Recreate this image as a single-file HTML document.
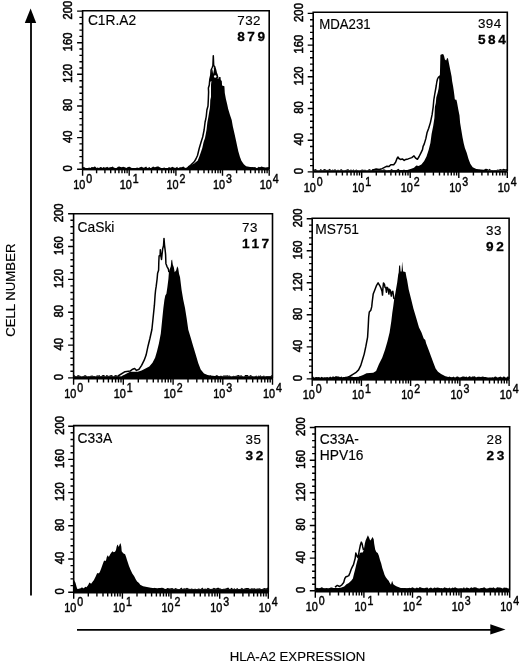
<!DOCTYPE html>
<html><head><meta charset="utf-8"><style>
html,body{margin:0;padding:0;background:#fff;}
svg{display:block;filter:grayscale(1);}
text{font-family:"Liberation Sans",sans-serif;fill:#000;stroke:#000;stroke-width:0.15px;}
.yl{font-size:12px;stroke-width:0.55px;}
.xl{font-size:12.5px;stroke-width:0.45px;}
.sup{font-size:12.2px;}
.nm{font-size:13.8px;}
.n1{font-size:13.4px;letter-spacing:0.5px;}
.n2{font-size:13.6px;stroke-width:0.3px;font-weight:bold;letter-spacing:2.6px;}
.ax{font-size:13.2px;}
</style></head><body>
<svg width="520" height="664" viewBox="0 0 520 664">
<polyline points="188.0,167.0 189.5,166.1 191.3,164.6 194.2,161.8 195.9,159.0 197.5,155.5 199.2,148.5 201.1,142.0 202.7,137.0 204.1,130.0 205.1,122.0 205.8,119.0 206.3,116.0 206.9,110.0 208.0,106.0 208.3,100.0 208.6,92.0 208.4,88.0 209.3,85.0 209.6,81.3 209.9,78.9 210.8,75.3 211.1,70.0 212.0,68.0 212.9,65.7 213.3,55.7 213.7,65.7 214.5,66.3 215.4,69.3 216.3,72.9 217.2,75.3 217.8,78.0" fill="none" stroke="#000" stroke-width="1.5" stroke-linejoin="round"/>
<polygon points="186.0,168.0 191.0,165.3 194.5,163.3 197.8,160.6 199.9,155.0 202.3,148.0 203.6,142.0 205.0,138.0 206.5,130.0 207.4,122.0 208.2,118.0 209.0,113.0 210.0,107.0 210.3,100.0 211.0,97.0 211.0,85.0 211.4,81.3 212.3,79.0 215.0,78.5 218.0,78.9 219.3,77.1 220.5,77.1 220.8,80.1 221.8,81.0 222.1,85.5 224.4,86.3 224.8,93.0 225.9,99.1 227.0,103.6 228.2,108.9 230.0,114.9 231.7,120.0 232.8,126.3 234.4,133.3 236.0,140.4 237.1,145.8 238.3,151.3 239.9,156.8 241.4,160.7 243.8,164.2 246.1,166.2 250.1,167.0 256.0,167.6 256.0,169.2 186.0,169.2" fill="#000"/>
<path d="M209.4,82L210.6,75.5L211.6,70.5L213.3,67.5L214.6,67.5L216.4,73L217.9,78.8L213,80.5Z" fill="#000"/><circle cx="215.2" cy="76.6" r="1.25" fill="#fff"/><path d="M212.4,69.5L213.4,66.5L214,69.5L213.2,74Z" fill="#fff"/>
<rect x="82.6" y="168.0" width="186.6" height="2.4" fill="#000"/>
<polygon points="82.6,168.2 82.6,167.6 83.5,167.0 84.4,167.2 85.6,168.1 86.9,168.1 88.1,168.1 89.0,167.4 90.6,168.0 91.6,167.1 93.4,167.2 94.6,166.4 95.4,166.7 96.5,167.9 97.4,167.6 99.0,167.9 100.4,167.0 101.6,167.2 102.4,168.1 103.4,167.0 104.6,167.6 106.0,167.4 107.1,166.8 108.6,167.8 110.0,167.3 111.7,166.9 112.8,166.4 113.7,167.4 115.2,167.9 116.5,168.1 118.0,166.8 119.4,166.6 120.5,166.9 121.9,167.2 123.1,166.7 124.9,167.3 126.4,168.1 127.9,167.0 129.7,166.7 130.8,167.5 132.2,168.2 133.5,167.9 134.4,168.1 136.0,168.0 137.0,167.5 138.7,168.1 140.0,167.2 141.7,166.7 143.3,167.7 144.5,167.6 146.2,166.5 147.2,167.9 148.2,167.8 149.5,167.1 150.5,168.2 151.8,167.5 153.1,166.5 154.6,167.3 156.0,167.0 156.9,166.6 158.5,166.6 160.1,167.5 161.3,168.0 162.7,168.1 163.6,167.8 164.5,167.6 165.4,168.2 166.3,168.0 167.4,168.2 169.1,167.1 170.1,167.7 171.2,167.5 172.1,166.7 173.9,167.4 175.2,168.0 176.1,167.6 177.2,166.7 178.1,168.2 179.9,167.2 180.8,167.2 181.6,167.2 183.4,166.6 184.9,167.7 186.1,167.9 187.7,167.2 189.2,167.6 190.3,166.7 192.1,166.7 193.7,166.7 195.2,167.8 196.6,167.6 197.4,168.1 198.4,167.7 199.9,166.5 201.2,166.5 203.0,166.5 204.1,167.8 205.2,167.8 206.2,167.1 207.9,166.7 209.1,167.0 210.8,168.0 212.2,166.6 213.8,166.8 215.1,167.9 216.7,167.6 218.3,166.5 219.5,167.5 221.3,166.9 222.2,168.0 223.2,166.6 224.8,167.9 226.4,166.4 227.9,167.6 229.2,168.0 230.0,166.5 231.5,167.3 233.2,167.4 234.9,166.7 235.9,167.7 237.0,167.8 238.4,167.7 239.6,168.0 241.3,167.6 242.6,167.1 244.3,167.4 246.0,167.3 247.4,167.3 248.2,167.4 249.2,168.2 250.8,167.9 252.0,166.9 253.4,167.6 254.7,167.2 256.3,168.0 257.7,167.8 258.7,166.8 260.0,167.2 261.6,166.6 262.9,167.1 264.2,167.3 265.7,167.4 267.0,167.3 268.8,166.9 269.2,168.2" fill="#000"/>
<path d="M82.6,169.2V10.8H269.2V169.2" fill="none" stroke="#000" stroke-width="1.6"/>
<path d="M77.1,169.2H82.6 M79.4,162.9H82.6 M79.4,156.6H82.6 M79.4,150.2H82.6 M79.4,143.9H82.6 M77.1,137.6H82.6 M79.4,131.3H82.6 M79.4,124.9H82.6 M79.4,118.6H82.6 M79.4,112.3H82.6 M77.1,106.0H82.6 M79.4,99.6H82.6 M79.4,93.3H82.6 M79.4,87.0H82.6 M79.4,80.7H82.6 M77.1,74.3H82.6 M79.4,68.0H82.6 M79.4,61.7H82.6 M79.4,55.4H82.6 M79.4,49.0H82.6 M77.1,42.7H82.6 M79.4,36.4H82.6 M79.4,30.1H82.6 M79.4,23.7H82.6 M79.4,17.4H82.6 M77.1,11.1H82.6 M82.6,169.2V175.7 M96.6,169.2V173.3 M104.9,169.2V173.3 M110.7,169.2V173.3 M115.2,169.2V173.3 M118.9,169.2V173.3 M122.0,169.2V173.3 M124.7,169.2V173.3 M127.1,169.2V173.3 M129.2,169.2V175.7 M143.3,169.2V173.3 M151.5,169.2V173.3 M157.3,169.2V173.3 M161.9,169.2V173.3 M165.6,169.2V173.3 M168.7,169.2V173.3 M171.4,169.2V173.3 M173.8,169.2V173.3 M175.9,169.2V175.7 M189.9,169.2V173.3 M198.2,169.2V173.3 M204.0,169.2V173.3 M208.5,169.2V173.3 M212.2,169.2V173.3 M215.3,169.2V173.3 M218.0,169.2V173.3 M220.4,169.2V173.3 M222.5,169.2V175.7 M236.6,169.2V173.3 M244.8,169.2V173.3 M250.6,169.2V173.3 M255.2,169.2V173.3 M258.9,169.2V173.3 M262.0,169.2V173.3 M264.7,169.2V173.3 M267.1,169.2V173.3 M269.2,169.2V175.7" stroke="#000" stroke-width="1.4" fill="none"/>
<text class="yl" transform="translate(72.4,168.3) rotate(-90) scale(0.94,1)" text-anchor="middle">0</text>
<text class="yl" transform="translate(72.4,136.7) rotate(-90) scale(0.94,1)" text-anchor="middle">40</text>
<text class="yl" transform="translate(72.4,105.1) rotate(-90) scale(0.94,1)" text-anchor="middle">80</text>
<text class="yl" transform="translate(72.4,73.4) rotate(-90) scale(0.94,1)" text-anchor="middle">120</text>
<text class="yl" transform="translate(72.4,41.8) rotate(-90) scale(0.94,1)" text-anchor="middle">160</text>
<text class="yl" transform="translate(72.4,10.2) rotate(-90) scale(0.94,1)" text-anchor="middle">200</text>
<g transform="translate(82.6,189.4) scale(0.87,1)"><text class="xl" text-anchor="middle">10<tspan class="sup" dx="1.1" dy="-6.4">0</tspan></text></g>
<g transform="translate(129.2,189.4) scale(0.87,1)"><text class="xl" text-anchor="middle">10<tspan class="sup" dx="1.1" dy="-6.4">1</tspan></text></g>
<g transform="translate(175.9,189.4) scale(0.87,1)"><text class="xl" text-anchor="middle">10<tspan class="sup" dx="1.1" dy="-6.4">2</tspan></text></g>
<g transform="translate(222.5,189.4) scale(0.87,1)"><text class="xl" text-anchor="middle">10<tspan class="sup" dx="1.1" dy="-6.4">3</tspan></text></g>
<g transform="translate(269.2,189.4) scale(0.87,1)"><text class="xl" text-anchor="middle">10<tspan class="sup" dx="1.1" dy="-6.4">4</tspan></text></g>
<text class="nm" x="87.9" y="24.5">C1R.A2</text>
<text class="n1" x="237.2" y="24.9">732</text>
<text class="n2" x="237.2" y="40.8">879</text>
<polyline points="372.0,170.3 376.3,169.0 379.2,169.5 382.1,168.6 385.0,167.1 386.9,166.2 388.8,166.6 390.8,164.7 393.7,164.7 395.6,162.3 397.0,158.5 398.0,157.0 398.9,158.5 400.4,159.4 402.3,158.9 404.2,160.4 405.7,159.4 408.1,158.9 411.8,157.6 414.0,155.9 415.7,158.2 417.4,159.3 419.1,156.5 420.8,153.1 422.5,149.7 423.1,146.3 424.2,144.1 425.9,138.4 427.0,132.8 428.7,128.2 430.4,122.6 432.1,114.7 433.2,106.8 433.8,100.0 434.6,95.0 435.5,90.0 436.2,86.0 436.8,82.0 437.5,79.0 438.4,77.4 439.6,76.4" fill="none" stroke="#000" stroke-width="1.5" stroke-linejoin="round"/>
<polygon points="372.0,171.0 400.3,170.3 407.3,170.1 410.6,168.9 414.0,167.8 416.3,165.5 418.6,166.1 421.4,164.4 424.2,161.0 426.5,156.5 428.7,149.7 430.4,142.9 431.6,133.9 433.2,126.0 434.4,118.1 434.9,106.8 435.8,103.0 436.3,97.4 437.6,92.9 438.6,88.4 439.3,81.1 439.0,76.2 439.9,74.8 440.2,63.1 440.4,54.9 441.1,54.5 443.1,54.0 444.0,55.8 444.9,59.5 446.2,60.4 447.1,58.1 448.0,58.5 448.9,63.1 449.8,67.6 450.7,72.1 451.6,76.6 452.1,81.1 453.0,85.7 453.7,90.2 454.4,95.6 454.8,99.2 455.6,99.8 456.4,99.8 457.0,102.2 458.3,109.5 459.5,115.5 460.1,122.7 461.3,129.9 462.5,137.2 463.7,143.2 464.9,148.0 466.7,152.8 468.5,158.9 470.3,163.7 472.7,167.3 476.3,169.1 481.1,169.4 487.0,170.0 487.0,171.6 372.0,171.6" fill="#000"/>
<rect x="313.2" y="170.3" width="194.1" height="2.4" fill="#000"/>
<polygon points="313.2,170.5 313.2,168.8 314.2,169.5 316.0,169.0 316.9,170.3 318.2,170.4 319.2,170.4 320.7,169.1 322.4,170.2 323.9,169.3 324.8,168.9 326.6,170.1 328.4,169.8 329.7,168.7 331.3,170.2 332.6,169.6 333.7,170.1 334.8,169.2 335.6,169.5 336.8,170.5 338.0,169.4 339.3,170.4 341.1,169.1 342.9,170.3 343.9,170.4 345.5,170.0 346.4,169.7 348.2,169.0 349.2,170.2 351.0,169.5 352.5,170.3 353.3,169.3 354.5,170.4 356.3,169.4 357.9,170.3 359.6,170.4 361.2,169.7 362.4,169.5 364.1,170.0 365.0,169.6 366.1,170.3 367.0,170.4 368.0,169.9 369.1,169.1 370.2,169.6 371.1,169.9 371.9,170.0 372.7,169.2 374.1,170.2 375.4,168.8 376.3,169.0 377.5,169.6 379.1,169.8 380.4,169.3 382.2,169.9 383.9,169.2 385.3,169.8 386.5,170.4 387.4,170.4 388.9,170.0 389.9,170.3 391.5,168.9 393.0,170.0 394.0,170.0 395.3,170.2 396.5,170.0 398.3,168.7 399.7,170.1 401.5,169.9 402.6,170.5 403.8,169.6 405.1,170.1 406.4,170.5 407.5,170.3 408.6,170.4 409.5,170.0 410.5,169.4 411.8,169.1 413.3,169.2 415.0,169.8 416.1,168.7 417.0,169.2 418.5,170.4 420.1,168.9 421.5,169.2 423.2,170.2 424.5,169.6 426.1,169.1 427.8,169.4 429.5,169.3 431.0,170.1 431.8,170.3 433.0,170.3 434.6,169.5 436.0,169.4 437.5,169.6 438.3,169.1 439.9,169.6 441.2,169.3 442.1,169.2 443.1,170.4 444.2,169.2 445.2,169.2 446.9,169.6 448.1,169.6 449.6,169.1 451.0,169.3 451.9,170.2 452.9,169.2 454.0,169.5 454.8,170.4 455.9,169.3 457.4,169.3 458.5,169.6 459.7,169.7 460.6,168.9 461.6,168.7 463.4,170.5 464.6,169.0 466.4,169.7 467.5,170.1 469.2,170.1 470.6,170.2 472.0,168.8 472.9,169.0 474.2,168.9 475.7,170.1 477.4,169.6 478.2,170.5 479.5,169.7 480.6,170.2 481.7,169.9 483.4,170.5 485.0,169.0 485.9,168.8 487.4,168.9 488.5,169.8 489.6,168.7 491.0,169.9 492.3,170.0 493.1,170.3 494.7,170.0 496.5,170.1 497.6,169.6 498.5,169.8 500.3,168.9 501.9,169.4 503.7,168.8 505.0,169.2 505.8,169.2 507.1,169.1 507.3,170.5" fill="#000"/>
<path d="M313.2,171.6V12.3H507.3V171.6" fill="none" stroke="#000" stroke-width="1.6"/>
<path d="M307.7,171.9H313.2 M310.0,165.6H313.2 M310.0,159.2H313.2 M310.0,152.9H313.2 M310.0,146.5H313.2 M307.7,140.2H313.2 M310.0,133.9H313.2 M310.0,127.5H313.2 M310.0,121.2H313.2 M310.0,114.8H313.2 M307.7,108.5H313.2 M310.0,102.2H313.2 M310.0,95.8H313.2 M310.0,89.5H313.2 M310.0,83.1H313.2 M307.7,76.8H313.2 M310.0,70.5H313.2 M310.0,64.1H313.2 M310.0,57.8H313.2 M310.0,51.4H313.2 M307.7,45.1H313.2 M310.0,38.8H313.2 M310.0,32.4H313.2 M310.0,26.1H313.2 M310.0,19.7H313.2 M307.7,13.4H313.2 M313.2,171.6V178.0 M327.8,171.6V175.6 M336.4,171.6V175.6 M342.4,171.6V175.6 M347.1,171.6V175.6 M351.0,171.6V175.6 M354.2,171.6V175.6 M357.0,171.6V175.6 M359.5,171.6V175.6 M361.7,171.6V178.0 M376.3,171.6V175.6 M384.9,171.6V175.6 M390.9,171.6V175.6 M395.6,171.6V175.6 M399.5,171.6V175.6 M402.7,171.6V175.6 M405.5,171.6V175.6 M408.0,171.6V175.6 M410.2,171.6V178.0 M424.9,171.6V175.6 M433.4,171.6V175.6 M439.5,171.6V175.6 M444.2,171.6V175.6 M448.0,171.6V175.6 M451.3,171.6V175.6 M454.1,171.6V175.6 M456.6,171.6V175.6 M458.8,171.6V178.0 M473.4,171.6V175.6 M481.9,171.6V175.6 M488.0,171.6V175.6 M492.7,171.6V175.6 M496.5,171.6V175.6 M499.8,171.6V175.6 M502.6,171.6V175.6 M505.1,171.6V175.6 M507.3,171.6V178.0" stroke="#000" stroke-width="1.4" fill="none"/>
<text class="yl" transform="translate(303.0,171.0) rotate(-90) scale(0.94,1)" text-anchor="middle">0</text>
<text class="yl" transform="translate(303.0,139.3) rotate(-90) scale(0.94,1)" text-anchor="middle">40</text>
<text class="yl" transform="translate(303.0,107.6) rotate(-90) scale(0.94,1)" text-anchor="middle">80</text>
<text class="yl" transform="translate(303.0,75.9) rotate(-90) scale(0.94,1)" text-anchor="middle">120</text>
<text class="yl" transform="translate(303.0,44.2) rotate(-90) scale(0.94,1)" text-anchor="middle">160</text>
<text class="yl" transform="translate(303.0,12.5) rotate(-90) scale(0.94,1)" text-anchor="middle">200</text>
<g transform="translate(313.2,192.1) scale(0.87,1)"><text class="xl" text-anchor="middle">10<tspan class="sup" dx="1.1" dy="-6.4">0</tspan></text></g>
<g transform="translate(361.7,192.1) scale(0.87,1)"><text class="xl" text-anchor="middle">10<tspan class="sup" dx="1.1" dy="-6.4">1</tspan></text></g>
<g transform="translate(410.2,192.1) scale(0.87,1)"><text class="xl" text-anchor="middle">10<tspan class="sup" dx="1.1" dy="-6.4">2</tspan></text></g>
<g transform="translate(458.8,192.1) scale(0.87,1)"><text class="xl" text-anchor="middle">10<tspan class="sup" dx="1.1" dy="-6.4">3</tspan></text></g>
<g transform="translate(507.3,192.1) scale(0.87,1)"><text class="xl" text-anchor="middle">10<tspan class="sup" dx="1.1" dy="-6.4">4</tspan></text></g>
<text class="nm" x="319.2" y="28.8" textLength="51.5" lengthAdjust="spacingAndGlyphs">MDA231</text>
<text class="n1" x="477.9" y="27.7">394</text>
<text class="n2" x="477.9" y="43.6">584</text>
<polyline points="118.0,376.0 125.0,371.7 130.1,371.1 132.7,369.2 134.6,368.5 136.5,370.4 139.1,369.2 141.6,365.3 144.2,360.2 146.1,355.1 148.0,346.2 149.9,338.5 151.9,329.5 153.1,318.0 154.4,305.2 155.1,295.0 155.6,290.0 156.1,286.9 157.1,279.0 157.6,273.2 158.6,270.2 158.8,262.4 159.1,256.0 160.1,255.5 160.3,249.7 160.7,254.6 161.5,259.5 162.0,254.6 162.7,248.7 163.5,245.8 164.0,238.4 164.5,244.8 165.2,250.7 165.6,254.6 165.9,263.4 166.9,266.3 168.4,269.2 168.9,272.2" fill="none" stroke="#000" stroke-width="1.5" stroke-linejoin="round"/>
<polygon points="122.0,376.0 130.1,371.7 137.8,371.7 141.6,370.4 145.5,368.5 149.3,366.6 152.5,362.8 155.1,357.7 157.0,351.3 158.9,343.6 160.8,333.4 162.1,320.6 163.4,307.8 164.4,300.0 165.3,295.5 166.4,293.7 167.4,286.9 168.4,279.0 168.9,272.2 169.4,270.2 170.8,266.3 171.3,260.4 172.1,259.5 172.8,264.4 173.8,267.3 174.7,272.2 176.2,270.2 177.2,266.3 178.2,268.3 179.1,274.1 180.0,277.0 181.6,289.9 183.3,299.9 185.0,308.1 186.6,318.1 188.3,329.7 190.8,338.0 193.2,346.3 195.7,354.6 198.2,362.9 200.7,369.5 204.0,373.6 208.2,375.3 215.0,376.1 222.0,376.5 222.0,378.0 122.0,378.0" fill="#000"/>
<rect x="73.6" y="376.5" width="198.9" height="3.0" fill="#000"/>
<polygon points="73.6,376.7 73.6,376.2 74.4,375.0 75.3,375.9 76.5,376.2 78.0,374.9 79.1,375.5 80.2,375.7 81.4,376.4 82.3,376.3 84.0,375.8 85.0,375.1 86.9,375.9 87.8,376.4 88.7,376.1 89.5,376.3 90.6,375.7 92.3,375.4 93.5,376.0 94.8,376.0 96.0,376.6 97.0,375.0 97.9,375.8 99.4,375.1 100.4,376.2 101.4,376.0 102.7,375.0 104.3,375.1 105.1,376.6 106.6,375.1 107.9,375.6 108.7,376.0 110.4,375.2 112.1,374.9 113.1,376.5 114.1,375.8 115.6,375.0 117.1,375.5 118.7,375.9 120.0,376.6 121.6,376.3 123.4,375.5 124.5,376.5 125.5,375.6 127.0,376.5 127.9,375.8 129.2,376.0 130.3,375.6 131.0,376.2 132.3,375.0 133.8,375.1 135.0,376.3 136.1,375.0 137.6,376.1 138.4,375.8 139.9,375.9 140.9,375.5 142.7,376.3 143.5,376.1 144.7,375.5 145.7,375.3 147.2,375.8 148.2,375.0 149.3,375.2 150.3,376.3 151.9,376.2 153.7,375.8 154.7,376.3 155.9,375.5 157.6,376.4 158.8,376.3 160.6,376.4 161.5,376.6 162.6,375.1 164.3,375.4 166.2,375.0 167.3,376.4 169.0,375.4 169.8,375.5 171.0,376.0 172.1,376.4 172.9,376.2 174.1,375.0 175.0,375.0 176.0,376.1 177.6,375.2 178.8,376.6 180.1,376.0 181.8,376.4 183.0,375.1 183.8,376.0 185.4,375.3 186.3,376.6 187.1,375.0 188.2,375.4 189.9,376.1 190.9,375.0 192.4,376.2 193.9,376.1 195.0,376.7 196.5,375.1 198.0,375.0 198.8,376.3 200.0,375.0 201.8,376.0 202.8,375.9 204.1,375.0 205.1,375.3 206.7,375.2 208.2,375.6 209.4,376.1 210.5,375.3 211.4,376.3 212.9,376.3 213.8,376.6 215.1,376.1 216.9,375.1 218.8,376.2 219.6,376.5 220.9,375.4 222.2,376.3 223.4,375.6 224.9,375.4 226.5,375.5 227.4,375.2 228.5,375.7 229.7,375.4 230.7,376.3 231.7,376.4 233.4,375.7 234.5,376.0 236.3,375.8 237.4,375.2 238.8,374.9 239.7,375.8 241.3,375.2 243.1,376.6 244.1,376.5 245.1,374.9 246.5,375.0 247.7,375.1 248.9,376.2 250.5,375.0 251.4,375.6 252.8,376.3 254.0,376.4 255.0,376.2 256.4,375.5 257.4,376.7 258.5,375.5 259.5,376.1 260.5,375.3 261.8,376.6 262.7,376.0 264.1,375.5 264.9,376.4 266.4,376.0 267.5,376.1 269.3,376.1 270.6,376.1 271.9,375.1 272.5,376.7" fill="#000"/>
<path d="M73.6,378.0V213.7H272.5V378.0" fill="none" stroke="#000" stroke-width="1.6"/>
<path d="M68.1,377.9H73.6 M70.4,371.3H73.6 M70.4,364.8H73.6 M70.4,358.2H73.6 M70.4,351.6H73.6 M68.1,345.1H73.6 M70.4,338.5H73.6 M70.4,331.9H73.6 M70.4,325.4H73.6 M70.4,318.8H73.6 M68.1,312.2H73.6 M70.4,305.7H73.6 M70.4,299.1H73.6 M70.4,292.5H73.6 M70.4,285.9H73.6 M68.1,279.4H73.6 M70.4,272.8H73.6 M70.4,266.2H73.6 M70.4,259.7H73.6 M70.4,253.1H73.6 M68.1,246.5H73.6 M70.4,240.0H73.6 M70.4,233.4H73.6 M70.4,226.8H73.6 M70.4,220.3H73.6 M68.1,213.7H73.6 M73.6,378.0V384.8 M88.6,378.0V382.4 M97.3,378.0V382.4 M103.5,378.0V382.4 M108.4,378.0V382.4 M112.3,378.0V382.4 M115.6,378.0V382.4 M118.5,378.0V382.4 M121.0,378.0V382.4 M123.3,378.0V384.8 M138.3,378.0V382.4 M147.0,378.0V382.4 M153.3,378.0V382.4 M158.1,378.0V382.4 M162.0,378.0V382.4 M165.3,378.0V382.4 M168.2,378.0V382.4 M170.8,378.0V382.4 M173.1,378.0V384.8 M188.0,378.0V382.4 M196.8,378.0V382.4 M203.0,378.0V382.4 M207.8,378.0V382.4 M211.7,378.0V382.4 M215.1,378.0V382.4 M218.0,378.0V382.4 M220.5,378.0V382.4 M222.8,378.0V384.8 M237.7,378.0V382.4 M246.5,378.0V382.4 M252.7,378.0V382.4 M257.5,378.0V382.4 M261.5,378.0V382.4 M264.8,378.0V382.4 M267.7,378.0V382.4 M270.2,378.0V382.4 M272.5,378.0V384.8" stroke="#000" stroke-width="1.4" fill="none"/>
<text class="yl" transform="translate(63.4,377.0) rotate(-90) scale(0.94,1)" text-anchor="middle">0</text>
<text class="yl" transform="translate(63.4,344.2) rotate(-90) scale(0.94,1)" text-anchor="middle">40</text>
<text class="yl" transform="translate(63.4,311.3) rotate(-90) scale(0.94,1)" text-anchor="middle">80</text>
<text class="yl" transform="translate(63.4,278.5) rotate(-90) scale(0.94,1)" text-anchor="middle">120</text>
<text class="yl" transform="translate(63.4,245.6) rotate(-90) scale(0.94,1)" text-anchor="middle">160</text>
<text class="yl" transform="translate(63.4,212.8) rotate(-90) scale(0.94,1)" text-anchor="middle">200</text>
<g transform="translate(73.6,398.1) scale(0.87,1)"><text class="xl" text-anchor="middle">10<tspan class="sup" dx="1.1" dy="-6.4">0</tspan></text></g>
<g transform="translate(123.3,398.1) scale(0.87,1)"><text class="xl" text-anchor="middle">10<tspan class="sup" dx="1.1" dy="-6.4">1</tspan></text></g>
<g transform="translate(173.1,398.1) scale(0.87,1)"><text class="xl" text-anchor="middle">10<tspan class="sup" dx="1.1" dy="-6.4">2</tspan></text></g>
<g transform="translate(222.8,398.1) scale(0.87,1)"><text class="xl" text-anchor="middle">10<tspan class="sup" dx="1.1" dy="-6.4">3</tspan></text></g>
<g transform="translate(272.5,398.1) scale(0.87,1)"><text class="xl" text-anchor="middle">10<tspan class="sup" dx="1.1" dy="-6.4">4</tspan></text></g>
<text class="nm" x="77.6" y="231.5">CaSki</text>
<text class="n1" x="242.0" y="231.5">73</text>
<text class="n2" x="242.0" y="247.7">117</text>
<polyline points="343.0,378.0 346.1,377.6 349.5,376.5 352.9,374.4 355.7,372.7 358.6,369.9 360.8,365.4 362.5,359.7 364.2,354.1 365.9,346.2 367.6,337.1 368.2,327.0 368.7,316.8 369.3,312.0 370.8,310.3 371.7,306.9 372.2,302.0 373.2,294.1 374.7,290.2 376.6,285.3 378.1,282.9 379.6,285.3 381.0,288.3 382.0,291.2 382.5,295.1 383.0,287.3 383.5,282.9 384.5,284.4 385.0,287.3 385.9,288.3 386.4,292.2 386.9,287.3 387.9,288.3 388.9,294.1 389.4,289.2 390.3,290.2 391.3,296.1 391.8,292.2 392.8,291.2 393.8,298.1 394.7,299.0" fill="none" stroke="#000" stroke-width="1.5" stroke-linejoin="round"/>
<polygon points="345.0,378.0 351.8,377.2 358.6,376.7 363.1,375.0 366.5,373.3 373.2,372.7 376.1,371.0 378.9,364.2 382.3,357.5 385.1,349.5 387.4,341.6 389.6,332.6 391.3,321.3 392.3,312.7 393.3,305.9 394.2,299.0 395.2,294.1 396.2,288.3 397.2,282.4 398.2,274.6 398.7,272.6 399.1,265.8 400.1,265.3 400.6,271.6 401.6,271.6 402.1,261.4 403.1,271.6 405.5,272.1 406.5,277.5 407.1,280.0 408.7,289.5 411.1,299.0 413.4,308.5 415.8,316.4 419.0,327.5 421.4,332.2 423.7,338.5 425.3,340.1 426.1,343.3 428.5,349.6 430.9,355.9 433.2,362.3 435.6,368.6 438.0,371.8 441.1,374.1 445.9,376.5 450.0,377.3 456.0,377.8 456.0,379.2 345.0,379.2" fill="#000"/>
<rect x="312.2" y="377.7" width="196.9" height="2.9" fill="#000"/>
<polygon points="312.2,377.9 312.2,377.2 313.2,376.6 314.2,377.9 315.9,377.1 317.5,377.2 319.2,377.1 320.2,377.9 321.5,376.7 323.3,377.7 324.7,377.2 326.0,377.6 327.1,377.0 328.8,377.7 330.1,376.5 331.9,377.5 332.8,376.2 334.6,377.0 335.4,376.2 336.6,376.3 338.0,376.4 339.0,376.5 340.0,377.2 341.6,376.4 342.6,377.5 343.8,377.0 345.0,377.7 346.0,376.6 347.7,377.8 349.1,376.5 349.9,376.4 350.8,376.8 352.2,376.8 353.3,377.1 354.7,377.1 356.1,377.1 357.4,377.9 358.8,377.0 359.8,376.5 361.4,377.1 362.4,377.0 363.3,377.7 364.5,377.7 365.7,377.0 366.6,376.8 367.4,376.6 369.0,377.0 369.8,377.0 371.0,376.2 371.9,376.4 373.8,376.6 375.4,377.6 377.2,377.0 379.0,376.3 379.9,376.5 381.7,377.8 382.8,376.5 383.7,376.3 384.8,376.4 385.7,377.0 387.5,377.5 388.5,377.0 389.6,377.8 390.6,377.6 392.4,376.7 394.1,377.6 395.7,377.7 397.0,376.8 398.2,376.3 399.5,376.9 401.2,377.7 403.0,376.8 404.2,376.5 405.3,376.1 406.7,377.3 408.2,377.1 409.2,376.6 410.0,376.4 411.1,376.7 412.9,376.8 414.3,377.3 415.1,377.8 416.1,376.8 417.3,377.0 419.0,377.7 420.0,376.7 420.8,377.9 422.0,377.7 423.1,377.5 424.5,376.8 425.5,376.8 426.8,377.7 428.5,377.5 429.5,377.7 430.9,376.3 432.5,377.2 433.6,377.9 435.0,376.9 436.2,376.7 437.4,376.2 438.9,377.5 440.7,377.8 442.0,377.2 443.0,377.8 444.6,377.9 446.0,376.2 446.9,377.5 448.3,377.0 449.7,376.4 450.7,377.3 451.8,377.8 453.5,376.5 455.0,377.9 456.7,376.6 458.0,376.6 459.2,377.5 460.1,377.5 460.9,377.3 462.5,376.6 464.1,376.6 465.2,376.9 466.4,376.5 467.7,377.4 469.2,376.2 470.2,376.3 471.0,377.4 472.0,376.6 473.8,376.6 474.9,376.3 476.0,377.5 477.7,376.8 479.2,376.7 481.0,377.1 482.7,376.6 484.4,377.1 485.9,376.9 487.0,377.5 488.4,377.8 490.2,377.6 491.0,377.7 492.7,377.3 493.6,377.8 494.5,376.7 495.9,376.6 497.4,377.8 498.8,377.2 500.5,376.4 502.2,377.8 503.9,376.3 505.6,377.7 506.6,377.7 507.4,376.4 509.1,376.8 509.1,377.9" fill="#000"/>
<path d="M312.2,379.2V218.2H509.1V379.2" fill="none" stroke="#000" stroke-width="1.6"/>
<path d="M306.7,378.9H312.2 M309.0,372.5H312.2 M309.0,366.1H312.2 M309.0,359.7H312.2 M309.0,353.3H312.2 M306.7,346.9H312.2 M309.0,340.5H312.2 M309.0,334.0H312.2 M309.0,327.6H312.2 M309.0,321.2H312.2 M306.7,314.8H312.2 M309.0,308.4H312.2 M309.0,302.0H312.2 M309.0,295.6H312.2 M309.0,289.2H312.2 M306.7,282.8H312.2 M309.0,276.4H312.2 M309.0,270.0H312.2 M309.0,263.6H312.2 M309.0,257.1H312.2 M306.7,250.7H312.2 M309.0,244.3H312.2 M309.0,237.9H312.2 M309.0,231.5H312.2 M309.0,225.1H312.2 M306.7,218.7H312.2 M312.2,379.2V385.9 M327.0,379.2V383.5 M335.7,379.2V383.5 M341.8,379.2V383.5 M346.6,379.2V383.5 M350.5,379.2V383.5 M353.8,379.2V383.5 M356.7,379.2V383.5 M359.2,379.2V383.5 M361.4,379.2V385.9 M376.2,379.2V383.5 M384.9,379.2V383.5 M391.1,379.2V383.5 M395.8,379.2V383.5 M399.7,379.2V383.5 M403.0,379.2V383.5 M405.9,379.2V383.5 M408.4,379.2V383.5 M410.6,379.2V385.9 M425.5,379.2V383.5 M434.1,379.2V383.5 M440.3,379.2V383.5 M445.1,379.2V383.5 M449.0,379.2V383.5 M452.2,379.2V383.5 M455.1,379.2V383.5 M457.6,379.2V383.5 M459.9,379.2V385.9 M474.7,379.2V383.5 M483.4,379.2V383.5 M489.5,379.2V383.5 M494.3,379.2V383.5 M498.2,379.2V383.5 M501.5,379.2V383.5 M504.3,379.2V383.5 M506.8,379.2V383.5 M509.1,379.2V385.9" stroke="#000" stroke-width="1.4" fill="none"/>
<text class="yl" transform="translate(302.0,378.0) rotate(-90) scale(0.94,1)" text-anchor="middle">0</text>
<text class="yl" transform="translate(302.0,346.0) rotate(-90) scale(0.94,1)" text-anchor="middle">40</text>
<text class="yl" transform="translate(302.0,313.9) rotate(-90) scale(0.94,1)" text-anchor="middle">80</text>
<text class="yl" transform="translate(302.0,281.9) rotate(-90) scale(0.94,1)" text-anchor="middle">120</text>
<text class="yl" transform="translate(302.0,249.8) rotate(-90) scale(0.94,1)" text-anchor="middle">160</text>
<text class="yl" transform="translate(302.0,217.8) rotate(-90) scale(0.94,1)" text-anchor="middle">200</text>
<g transform="translate(312.2,399.1) scale(0.87,1)"><text class="xl" text-anchor="middle">10<tspan class="sup" dx="1.1" dy="-6.4">0</tspan></text></g>
<g transform="translate(361.4,399.1) scale(0.87,1)"><text class="xl" text-anchor="middle">10<tspan class="sup" dx="1.1" dy="-6.4">1</tspan></text></g>
<g transform="translate(410.6,399.1) scale(0.87,1)"><text class="xl" text-anchor="middle">10<tspan class="sup" dx="1.1" dy="-6.4">2</tspan></text></g>
<g transform="translate(459.9,399.1) scale(0.87,1)"><text class="xl" text-anchor="middle">10<tspan class="sup" dx="1.1" dy="-6.4">3</tspan></text></g>
<g transform="translate(509.1,399.1) scale(0.87,1)"><text class="xl" text-anchor="middle">10<tspan class="sup" dx="1.1" dy="-6.4">4</tspan></text></g>
<text class="nm" x="315.3" y="233.8">MS751</text>
<text class="n1" x="486.0" y="234.6">33</text>
<text class="n2" x="486.0" y="250.8">92</text>
<polygon points="73.8,579.8 75.5,582.7 76.7,587.3 77.4,589.0 83.6,588.6 85.3,586.7 86.5,587.3 88.2,585.0 89.4,582.4 91.1,583.8 92.8,581.5 93.8,580.2 95.8,576.3 97.2,573.0 98.2,573.5 99.6,572.5 101.1,568.7 102.5,564.8 103.9,561.0 104.9,560.5 105.9,561.0 106.8,557.1 107.8,555.2 108.8,557.1 110.2,554.2 111.6,552.3 112.6,551.3 113.6,552.3 115.0,551.8 116.0,549.9 116.7,546.5 117.4,544.6 118.1,545.6 118.8,547.0 119.8,544.1 120.6,543.2 121.3,546.5 121.7,551.3 123.2,553.3 125.1,554.2 126.1,557.1 127.0,560.0 128.0,562.9 128.9,565.8 130.4,569.6 132.3,573.5 134.2,576.3 135.7,579.2 137.1,581.6 139.0,583.1 140.2,584.8 143.1,586.3 146.9,587.1 150.8,587.7 156.5,588.5 162.3,589.0 170.0,589.2 170.0,592.0 73.8,592.0" fill="#000"/>
<rect x="73.7" y="589.1" width="194.6" height="4.4" fill="#000"/>
<polygon points="73.7,589.3 73.7,588.2 74.8,589.1 75.7,587.9 76.7,588.7 77.9,589.3 78.9,588.8 80.4,588.6 81.6,587.6 82.9,587.8 84.3,589.2 85.5,588.5 87.1,588.7 88.6,588.3 89.6,587.7 90.5,587.8 91.4,589.3 92.4,587.9 94.2,589.3 95.5,588.4 97.1,589.0 98.4,588.7 100.1,588.8 101.8,588.8 102.8,588.0 104.1,589.1 105.6,589.2 107.2,588.0 108.8,588.2 109.9,588.6 111.1,587.7 112.0,587.7 112.8,588.9 113.8,587.7 115.1,588.6 116.8,588.9 118.1,588.3 119.7,587.9 121.1,588.7 122.2,589.0 123.9,588.1 125.4,589.0 126.7,587.9 128.1,589.1 129.3,587.7 130.3,589.0 131.4,588.0 133.1,589.0 134.0,588.9 135.2,588.4 136.1,588.7 137.1,587.5 138.6,589.1 140.4,589.1 141.6,587.5 143.2,588.0 144.4,588.9 145.9,589.1 146.9,588.6 147.7,588.6 149.3,588.1 150.6,588.2 151.8,589.0 153.2,588.6 154.8,587.7 156.0,588.3 157.6,588.5 158.6,588.0 160.3,587.9 161.8,587.8 163.3,588.1 164.5,588.7 166.0,589.1 167.2,587.9 168.7,588.2 169.7,588.5 171.0,588.2 172.2,588.1 174.0,589.0 175.4,587.9 176.6,588.4 178.4,589.2 179.7,589.0 181.3,587.6 182.7,589.1 184.0,588.3 185.6,588.4 187.0,587.8 188.3,588.6 190.1,588.9 191.6,588.6 193.2,589.1 195.0,588.7 195.8,588.8 197.0,589.3 198.2,588.5 199.7,588.7 200.8,588.9 202.3,587.6 203.6,588.9 205.3,588.6 206.3,589.1 207.9,587.8 209.3,588.5 210.7,588.9 212.4,588.7 213.9,587.8 215.5,588.5 216.6,588.3 217.5,587.8 218.7,587.8 219.7,588.6 220.8,588.5 221.7,589.3 223.3,588.8 224.3,588.8 225.6,588.5 227.0,588.1 228.2,587.6 229.8,589.2 231.5,587.7 233.1,589.0 234.7,588.2 235.5,589.3 237.3,588.1 238.3,589.1 239.3,588.9 240.8,588.7 241.8,587.7 243.4,589.0 245.1,588.2 246.7,588.1 248.4,587.9 250.0,588.9 251.5,588.3 253.1,588.5 254.8,588.3 255.9,588.9 256.8,588.4 257.6,588.5 258.5,588.4 259.8,588.3 261.5,589.3 263.2,588.5 264.5,588.1 266.2,588.6 267.4,587.6 268.3,588.2 268.3,589.3" fill="#000"/>
<path d="M73.7,592.0V425.6H268.3V592.0" fill="none" stroke="#000" stroke-width="1.6"/>
<path d="M68.2,592.2H73.7 M70.5,585.6H73.7 M70.5,578.9H73.7 M70.5,572.3H73.7 M70.5,565.6H73.7 M68.2,559.0H73.7 M70.5,552.4H73.7 M70.5,545.7H73.7 M70.5,539.1H73.7 M70.5,532.4H73.7 M68.2,525.8H73.7 M70.5,519.2H73.7 M70.5,512.5H73.7 M70.5,505.9H73.7 M70.5,499.2H73.7 M68.2,492.6H73.7 M70.5,486.0H73.7 M70.5,479.3H73.7 M70.5,472.7H73.7 M70.5,466.0H73.7 M68.2,459.4H73.7 M70.5,452.8H73.7 M70.5,446.1H73.7 M70.5,439.5H73.7 M70.5,432.8H73.7 M68.2,426.2H73.7 M73.7,592.0V598.8 M88.3,592.0V596.4 M96.9,592.0V596.4 M103.0,592.0V596.4 M107.7,592.0V596.4 M111.6,592.0V596.4 M114.8,592.0V596.4 M117.6,592.0V596.4 M120.1,592.0V596.4 M122.4,592.0V598.8 M137.0,592.0V596.4 M145.6,592.0V596.4 M151.6,592.0V596.4 M156.4,592.0V596.4 M160.2,592.0V596.4 M163.5,592.0V596.4 M166.3,592.0V596.4 M168.8,592.0V596.4 M171.0,592.0V598.8 M185.6,592.0V596.4 M194.2,592.0V596.4 M200.3,592.0V596.4 M205.0,592.0V596.4 M208.9,592.0V596.4 M212.1,592.0V596.4 M214.9,592.0V596.4 M217.4,592.0V596.4 M219.7,592.0V598.8 M234.3,592.0V596.4 M242.9,592.0V596.4 M248.9,592.0V596.4 M253.7,592.0V596.4 M257.5,592.0V596.4 M260.8,592.0V596.4 M263.6,592.0V596.4 M266.1,592.0V596.4 M268.3,592.0V598.8" stroke="#000" stroke-width="1.4" fill="none"/>
<text class="yl" transform="translate(63.5,591.3) rotate(-90) scale(0.94,1)" text-anchor="middle">0</text>
<text class="yl" transform="translate(63.5,558.1) rotate(-90) scale(0.94,1)" text-anchor="middle">40</text>
<text class="yl" transform="translate(63.5,524.9) rotate(-90) scale(0.94,1)" text-anchor="middle">80</text>
<text class="yl" transform="translate(63.5,491.7) rotate(-90) scale(0.94,1)" text-anchor="middle">120</text>
<text class="yl" transform="translate(63.5,458.5) rotate(-90) scale(0.94,1)" text-anchor="middle">160</text>
<text class="yl" transform="translate(63.5,425.3) rotate(-90) scale(0.94,1)" text-anchor="middle">200</text>
<g transform="translate(73.7,612.4) scale(0.87,1)"><text class="xl" text-anchor="middle">10<tspan class="sup" dx="1.1" dy="-6.4">0</tspan></text></g>
<g transform="translate(122.4,612.4) scale(0.87,1)"><text class="xl" text-anchor="middle">10<tspan class="sup" dx="1.1" dy="-6.4">1</tspan></text></g>
<g transform="translate(171.0,612.4) scale(0.87,1)"><text class="xl" text-anchor="middle">10<tspan class="sup" dx="1.1" dy="-6.4">2</tspan></text></g>
<g transform="translate(219.7,612.4) scale(0.87,1)"><text class="xl" text-anchor="middle">10<tspan class="sup" dx="1.1" dy="-6.4">3</tspan></text></g>
<g transform="translate(268.3,612.4) scale(0.87,1)"><text class="xl" text-anchor="middle">10<tspan class="sup" dx="1.1" dy="-6.4">4</tspan></text></g>
<text class="nm" x="77.6" y="443.1">C33A</text>
<text class="n1" x="245.5" y="443.5">35</text>
<text class="n2" x="245.5" y="459.5">32</text>
<polyline points="335.0,587.1 337.3,585.4 339.6,586.5 341.9,584.8 343.7,582.5 344.8,578.5 346.0,576.7 347.7,576.2 348.8,575.6 350.0,572.7 351.2,569.2 352.3,566.9 353.5,564.6 354.4,561.2 355.2,558.3 355.8,553.1 356.3,554.2 357.2,556.5 358.1,557.7 359.2,550.8 360.4,545.0 361.3,542.1 362.1,543.8 362.7,546.7 363.6,550.2" fill="none" stroke="#000" stroke-width="1.5" stroke-linejoin="round"/>
<polygon points="325.0,589.0 335.0,588.5 340.8,587.7 344.2,586.5 346.5,584.2 348.8,583.1 351.2,580.8 352.9,578.5 354.0,573.8 355.2,569.2 356.3,564.6 357.5,560.0 358.7,556.5 359.8,553.1 361.0,552.5 362.7,552.5 363.8,550.2 364.8,543.8 365.6,540.4 366.7,538.1 367.9,535.2 369.0,537.5 370.2,540.4 371.3,539.2 372.5,536.9 373.7,539.2 374.2,543.8 375.2,549.6 376.3,551.9 377.7,553.1 378.8,555.4 380.0,560.0 381.2,563.5 382.3,568.1 383.5,571.5 384.6,575.0 385.8,577.3 387.5,579.6 388.7,580.8 389.8,583.1 391.0,584.8 392.1,580.8 393.3,584.2 395.0,585.4 396.9,586.5 400.8,588.0 408.5,588.6 420.0,589.0 420.0,590.8 325.0,590.8" fill="#000"/>
<rect x="315.3" y="588.7" width="194.4" height="3.8" fill="#000"/>
<polygon points="315.3,588.9 315.3,588.8 316.7,587.7 318.5,588.3 320.3,588.0 321.5,587.3 322.4,587.6 323.8,588.3 325.5,588.2 326.7,588.0 328.3,588.5 329.6,588.1 330.9,587.4 332.0,587.4 333.2,588.0 334.3,588.0 336.1,587.7 337.7,588.3 338.8,588.4 340.2,587.8 341.8,588.8 343.3,587.3 344.6,588.8 345.7,588.9 346.7,587.2 348.1,587.7 349.7,587.3 351.1,587.8 352.6,587.6 354.0,587.7 355.0,587.7 356.2,587.5 357.1,588.6 357.9,587.5 359.7,587.7 360.8,587.4 362.4,587.9 363.5,588.4 364.7,588.3 365.9,587.7 367.7,588.8 369.0,588.8 369.9,587.4 371.3,587.2 372.6,588.9 373.7,587.8 375.5,587.1 376.8,588.2 377.7,587.7 378.7,588.6 379.5,588.9 380.9,588.7 382.7,588.7 384.4,588.7 385.2,587.6 386.2,587.6 387.2,588.8 388.8,587.6 390.5,587.6 391.3,587.8 392.9,588.1 394.6,588.4 396.4,587.6 397.2,588.9 398.6,587.4 399.5,588.3 401.0,588.6 402.7,588.0 403.6,588.2 404.9,588.1 406.4,588.6 408.0,588.2 409.5,587.8 410.7,588.2 412.3,587.2 413.9,587.9 415.0,588.8 416.8,587.6 418.4,588.3 419.8,587.1 421.5,587.8 422.6,588.1 424.3,588.2 425.8,587.8 427.5,587.4 428.5,588.9 429.6,588.1 431.0,587.4 432.7,588.8 434.3,587.4 436.0,587.9 437.1,587.4 438.7,587.7 440.4,588.3 441.3,587.9 442.9,588.5 444.5,587.2 445.5,587.8 447.0,588.1 448.0,588.4 449.5,587.5 450.8,588.7 452.4,587.5 453.4,587.9 455.2,587.3 456.5,588.0 457.9,588.6 458.8,588.6 460.4,588.2 461.7,588.2 463.0,588.6 463.9,587.1 465.0,588.7 466.5,587.5 467.4,587.8 468.6,588.0 469.4,588.8 471.2,587.3 472.5,587.9 473.5,587.5 474.7,587.2 476.3,587.4 478.1,588.4 478.9,588.5 479.9,588.7 480.7,587.9 482.4,588.1 484.2,587.3 485.0,587.8 486.2,588.7 488.0,588.4 489.3,587.7 491.1,587.7 492.3,588.1 493.3,587.2 495.1,588.5 495.9,588.4 497.0,587.3 498.8,587.4 499.6,587.5 501.1,587.7 502.9,588.8 503.8,587.5 505.6,587.7 506.7,587.8 508.2,588.7 509.4,588.4 509.7,588.9" fill="#000"/>
<path d="M315.3,590.8V426.7H509.7V590.8" fill="none" stroke="#000" stroke-width="1.6"/>
<path d="M309.8,590.8H315.3 M312.1,584.3H315.3 M312.1,577.7H315.3 M312.1,571.2H315.3 M312.1,564.7H315.3 M309.8,558.1H315.3 M312.1,551.6H315.3 M312.1,545.1H315.3 M312.1,538.5H315.3 M312.1,532.0H315.3 M309.8,525.5H315.3 M312.1,518.9H315.3 M312.1,512.4H315.3 M312.1,505.9H315.3 M312.1,499.4H315.3 M309.8,492.8H315.3 M312.1,486.3H315.3 M312.1,479.8H315.3 M312.1,473.2H315.3 M312.1,466.7H315.3 M309.8,460.2H315.3 M312.1,453.6H315.3 M312.1,447.1H315.3 M312.1,440.6H315.3 M312.1,434.0H315.3 M309.8,427.5H315.3 M315.3,590.8V597.8 M329.9,590.8V595.4 M338.5,590.8V595.4 M344.6,590.8V595.4 M349.3,590.8V595.4 M353.1,590.8V595.4 M356.4,590.8V595.4 M359.2,590.8V595.4 M361.7,590.8V595.4 M363.9,590.8V597.8 M378.5,590.8V595.4 M387.1,590.8V595.4 M393.2,590.8V595.4 M397.9,590.8V595.4 M401.7,590.8V595.4 M405.0,590.8V595.4 M407.8,590.8V595.4 M410.3,590.8V595.4 M412.5,590.8V597.8 M427.1,590.8V595.4 M435.7,590.8V595.4 M441.8,590.8V595.4 M446.5,590.8V595.4 M450.3,590.8V595.4 M453.6,590.8V595.4 M456.4,590.8V595.4 M458.9,590.8V595.4 M461.1,590.8V597.8 M475.7,590.8V595.4 M484.3,590.8V595.4 M490.4,590.8V595.4 M495.1,590.8V595.4 M498.9,590.8V595.4 M502.2,590.8V595.4 M505.0,590.8V595.4 M507.5,590.8V595.4 M509.7,590.8V597.8" stroke="#000" stroke-width="1.4" fill="none"/>
<text class="yl" transform="translate(305.1,589.9) rotate(-90) scale(0.94,1)" text-anchor="middle">0</text>
<text class="yl" transform="translate(305.1,557.2) rotate(-90) scale(0.94,1)" text-anchor="middle">40</text>
<text class="yl" transform="translate(305.1,524.6) rotate(-90) scale(0.94,1)" text-anchor="middle">80</text>
<text class="yl" transform="translate(305.1,491.9) rotate(-90) scale(0.94,1)" text-anchor="middle">120</text>
<text class="yl" transform="translate(305.1,459.3) rotate(-90) scale(0.94,1)" text-anchor="middle">160</text>
<text class="yl" transform="translate(305.1,426.6) rotate(-90) scale(0.94,1)" text-anchor="middle">200</text>
<g transform="translate(315.3,611.0) scale(0.87,1)"><text class="xl" text-anchor="middle">10<tspan class="sup" dx="1.1" dy="-6.4">0</tspan></text></g>
<g transform="translate(363.9,611.0) scale(0.87,1)"><text class="xl" text-anchor="middle">10<tspan class="sup" dx="1.1" dy="-6.4">1</tspan></text></g>
<g transform="translate(412.5,611.0) scale(0.87,1)"><text class="xl" text-anchor="middle">10<tspan class="sup" dx="1.1" dy="-6.4">2</tspan></text></g>
<g transform="translate(461.1,611.0) scale(0.87,1)"><text class="xl" text-anchor="middle">10<tspan class="sup" dx="1.1" dy="-6.4">3</tspan></text></g>
<g transform="translate(509.7,611.0) scale(0.87,1)"><text class="xl" text-anchor="middle">10<tspan class="sup" dx="1.1" dy="-6.4">4</tspan></text></g>
<text class="nm" x="319.8" y="443.7">C33A-</text>
<text class="nm" x="319.8" y="459.5">HPV16</text>
<text class="n1" x="486.5" y="443.8">28</text>
<text class="n2" x="486.5" y="459.5">23</text>
<path d="M31,595.5V21" stroke="#000" stroke-width="1.8"/>
<path d="M30.6,8.5L24.8,23L36.2,23Z" fill="#000"/>
<path d="M77,629.8H492" stroke="#000" stroke-width="1.8"/>
<path d="M505.5,629.4L490.3,624.2L490.3,634.6Z" fill="#000"/>
<text class="ax" transform="translate(15.2,290.2) rotate(-90)" text-anchor="middle">CELL NUMBER</text>
<text class="ax" x="297.5" y="660.8" text-anchor="middle">HLA-A2 EXPRESSION</text>
</svg>
</body></html>
